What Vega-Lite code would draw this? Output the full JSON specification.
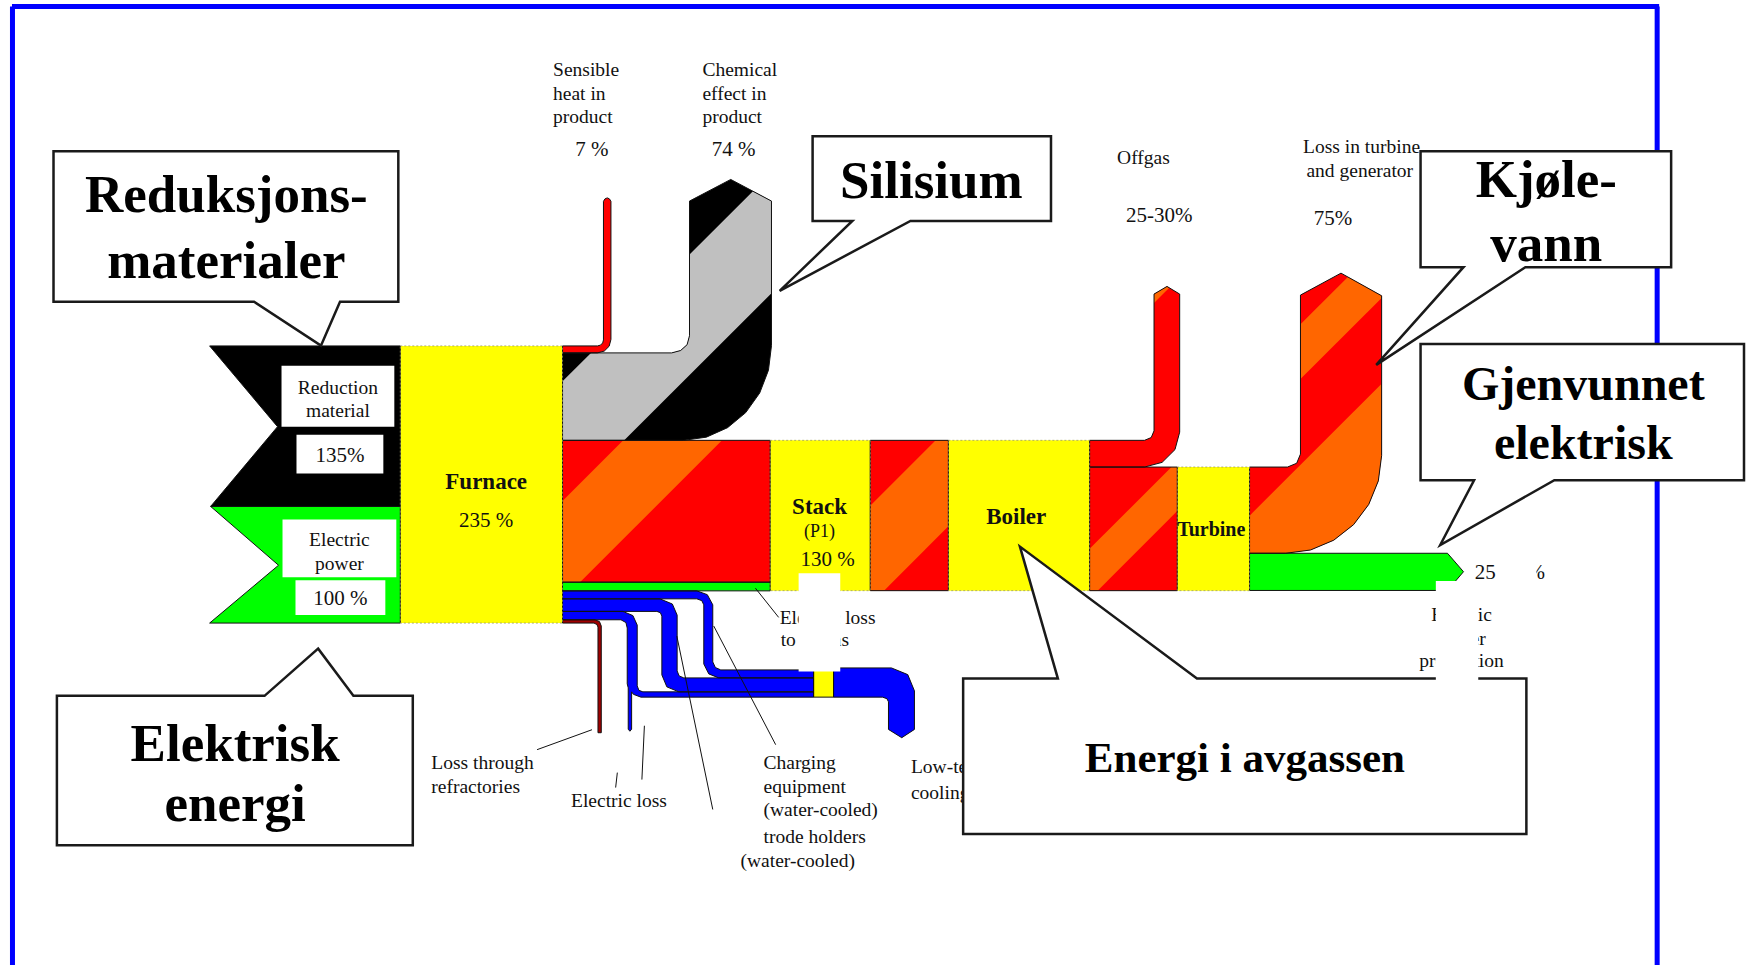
{
  "$schema": "https://vega.github.io/schema/vega-lite/v6.json",
  "width": 1749,
  "height": 968,
  "autosize": {"type": "fit", "contains": "padding"},
  "padding": 0,
  "background": "#ffffff",
  "config": {"view": {"stroke": null}},
  "datasets": {
    "shapes": [
      {"id": "A", "k": "reduction", "x": [210, 401, 401, 211, 278], "y": [347, 347, 508, 508, 428]},
      {"id": "B", "k": "electric", "x": [211, 401, 401, 210, 279], "y": [508, 508, 625, 625, 567]},
      {"id": "C", "k": "process", "x": [401, 563.5, 563.5, 401], "y": [347, 347, 625, 625]},
      {"id": "D", "k": "exhaust", "x": [563.5, 598.5, 601.5, 603.7, 604.5, 604.5, 606, 608.3, 610.5, 612, 612, 610.2, 605.3, 598.5, 563.5], "y": [347, 347, 346.2, 344, 341, 202, 199.5, 198.5, 199.5, 202, 340.5, 347.3, 352.2, 354, 354]},
      {"id": "E", "k": "product", "x": [563.5, 672.8, 681.8, 688.3, 690.7, 690.7, 732, 772.8, 772.8, 769.8, 761, 747, 728.8, 707.6, 684.8, 563.5], "y": [354, 354, 351.6, 345.7, 336.7, 201.7, 180, 201.7, 346.7, 371.3, 394.2, 413.9, 429, 438.5, 441.7, 441.7]},
      {"id": "F", "k": "exhaust", "x": [563.5, 771.5, 771.5, 563.5], "y": [441.7, 441.7, 584, 584]},
      {"id": "F2", "k": "electric", "x": [563.5, 771.5, 771.5, 563.5], "y": [584, 584, 592.7, 592.7]},
      {"id": "G", "k": "process", "x": [771.5, 871.7, 871.7, 771.5], "y": [441.7, 441.7, 592.5, 592.5]},
      {"id": "H", "k": "exhaust", "x": [871.7, 950, 950, 871.7], "y": [441.7, 441.7, 592.5, 592.5]},
      {"id": "I", "k": "process", "x": [950, 1091.5, 1091.5, 950], "y": [441.7, 441.7, 592.5, 592.5]},
      {"id": "J", "k": "exhaust", "x": [1091.5, 1146.5, 1153.2, 1156, 1156, 1169, 1181.7, 1181.7, 1177, 1164.1, 1146.5, 1091.5], "y": [441.7, 441.7, 438.9, 432.2, 295, 287.3, 295, 433.5, 451, 463.8, 468.5, 468.5]},
      {"id": "K", "k": "exhaust", "x": [1091.5, 1179.3, 1179.3, 1091.5], "y": [468.5, 468.5, 592.5, 592.5]},
      {"id": "L", "k": "process", "x": [1179.3, 1251.7, 1251.7, 1179.3], "y": [468.5, 468.5, 592.5, 592.5]},
      {"id": "M", "k": "exhaust", "x": [1251.7, 1289.7, 1298.9, 1302.7, 1302.7, 1343.3, 1384, 1384, 1380.7, 1371.1, 1355.9, 1336, 1312.8, 1288, 1251.7], "y": [468.5, 468.5, 464.7, 455.5, 296, 274, 296.7, 457, 482.4, 506, 526.3, 541.9, 551.7, 555, 555]},
      {"id": "N", "k": "electric", "x": [1251.7, 1450, 1466, 1450, 1251.7], "y": [555, 555, 573.5, 592.3, 592.3]},
      {"id": "P1", "k": "cooling", "x": [563.5, 698, 708.5, 714, 714, 716.6, 722, 815, 815, 720, 710, 705, 705, 703, 698, 563.5], "y": [592.7, 592.7, 596.5, 606.7, 664, 669.6, 672, 672, 680, 680, 676, 666, 606.7, 602.5, 600.7, 600.7]},
      {"id": "P2", "k": "cooling", "x": [563.5, 661, 673.5, 678.3, 678.3, 680.3, 685, 815, 815, 680, 668, 663, 663, 661.5, 658, 563.5], "y": [600.7, 600.7, 605.9, 617, 673, 678, 680, 680, 694, 694, 689, 677, 618, 614.6, 613.3, 613.3]},
      {"id": "P3", "k": "cooling", "x": [563.5, 624, 634, 638.3, 638.3, 640, 644, 815, 815, 642, 634.5, 632.7, 632.7, 631, 629.3, 629.3, 628.3, 628.3, 627, 622, 563.5], "y": [613.3, 613.3, 617.5, 627, 688, 692.5, 694, 694, 699.3, 699.3, 696.5, 694, 731.5, 733.5, 731.5, 690, 686, 630, 624.5, 621.7, 621.7]},
      {"id": "Q", "k": "cooling", "x": [835, 893, 909.3, 916, 916, 903.3, 890, 890, 888.5, 884, 835], "y": [670, 670, 676.7, 693, 731.7, 740, 731.7, 704, 700.9, 699.3, 699.3]},
      {"id": "R", "k": "process", "x": [815, 835, 835, 815], "y": [671, 671, 699.3, 699.3]},
      {"id": "T", "k": "refractory", "x": [563.5, 596, 600.5, 602.3, 602.3, 599, 599, 598, 595, 563.5], "y": [621.7, 621.7, 623.5, 628, 735, 735, 629, 626.5, 625, 625]}
    ],
    "stripes": [
      {"id": "S1", "k": "exhaust stripe", "x": [624.3, 723.3, 581, 563.5, 563.5], "y": [441.7, 441.7, 584, 584, 502.5]},
      {"id": "S2", "k": "exhaust stripe", "x": [937.3, 950, 950, 885.5, 871.7, 871.7], "y": [441.7, 441.7, 528, 592.5, 592.5, 507.3]},
      {"id": "S3", "k": "exhaust stripe", "x": [1156, 1156, 1169, 1171.3], "y": [304, 295, 287.3, 288.7]},
      {"id": "S4", "k": "exhaust stripe", "x": [1173.5, 1179.3, 1179.3, 1099.5, 1091.5, 1091.5], "y": [468.5, 468.5, 512.7, 592.5, 592.5, 550.5]},
      {"id": "S5", "k": "exhaust stripe", "x": [1302.7, 1302.7, 1350.2, 1384, 1384], "y": [380.3, 325.3, 277.8, 296.7, 299]},
      {"id": "S6", "k": "exhaust stripe", "x": [1384, 1384, 1380.7, 1371.1, 1355.9, 1336, 1312.8, 1288, 1251.7, 1251.7], "y": [385, 457, 482.4, 506, 526.3, 541.9, 551.7, 555, 555, 517.3]},
      {"id": "S7", "k": "product stripe", "x": [592, 672.8, 681.8, 688.3, 690.7, 690.7, 754.2, 772.8, 772.8, 625.3, 563.5, 563.5], "y": [354, 354, 351.6, 345.7, 336.7, 255.3, 191.8, 201.7, 294.2, 441.7, 441.7, 382.5]}
    ],
    "callouts": [
      {"id": "C1", "x": [53.6, 399, 399, 340.6, 321.5, 254.5, 53.6], "y": [151.7, 151.7, 302.7, 302.7, 346.7, 302.7, 302.7]},
      {"id": "C2", "x": [814, 1052.8, 1052.8, 912, 781, 853.8, 814], "y": [136.7, 136.7, 221.7, 221.7, 291.7, 221.7, 221.7]},
      {"id": "C3", "x": [1423, 1674, 1674, 1528, 1378.6, 1466, 1423], "y": [151.7, 151.7, 268, 268, 366, 268, 268]},
      {"id": "C4", "x": [1423, 1747, 1747, 1557, 1442.7, 1476.6, 1423], "y": [345, 345, 481.7, 481.7, 546.7, 481.7, 481.7]},
      {"id": "C5", "x": [57, 265, 318.7, 354, 413.5, 413.5, 57], "y": [698, 698, 650.7, 698, 698, 848, 848]},
      {"id": "C6", "x": [964.8, 1059.7, 1021.7, 1199, 1529, 1529, 964.8], "y": [680.7, 680.7, 548.3, 680.7, 680.7, 836.7, 836.7]}
    ],
    "border": [
      {"x": 12, "y": 6.5, "x2": 1662, "y2": 6.5},
      {"x": 12.5, "y": 6.5, "x2": 12.5, "y2": 968},
      {"x": 1660, "y": 6.5, "x2": 1660, "y2": 968}
    ],
    "leaders": [
      {"x": 538, "y": 752, "x2": 593, "y2": 732},
      {"x": 616.7, "y": 790, "x2": 618.4, "y2": 775},
      {"x": 643, "y": 782, "x2": 645.5, "y2": 728},
      {"x": 678, "y": 638, "x2": 714, "y2": 812},
      {"x": 715, "y": 628, "x2": 777, "y2": 747},
      {"x": 756.7, "y": 590, "x2": 780, "y2": 619.3}
    ],
    "labelboxes": [
      {"x": 282, "x2": 395, "y": 367, "y2": 428},
      {"x": 297, "x2": 384, "y": 436, "y2": 475},
      {"x": 283, "x2": 397, "y": 521, "y2": 579},
      {"x": 296, "x2": 386, "y": 582, "y2": 617}
    ],
    "masks": [
      {"x": 800, "x2": 841.7, "y": 575, "y2": 673.5},
      {"x": 1438.3, "x2": 1480.8, "y": 582.7, "y2": 683},
      {"x": 1526, "x2": 1539, "y": 558, "y2": 590}
    ],
    "texts": [
      {"t": "Sensible", "x": 554, "y": 70, "role": "label"},
      {"t": "heat in", "x": 554, "y": 94, "role": "label"},
      {"t": "product", "x": 554, "y": 117, "role": "label"},
      {"t": "Chemical", "x": 703.6, "y": 70, "role": "label"},
      {"t": "effect in", "x": 703.6, "y": 94, "role": "label"},
      {"t": "product", "x": 703.6, "y": 117, "role": "label"},
      {"t": "Offgas", "x": 1119, "y": 158, "role": "label"},
      {"t": "Loss in turbine", "x": 1305.3, "y": 147.3, "role": "label"},
      {"t": "and generator", "x": 1308.7, "y": 171.7, "role": "label"},
      {"t": "Electric loss", "x": 781, "y": 620, "role": "label"},
      {"t": "to offgas", "x": 782, "y": 641.7, "role": "label"},
      {"t": "Low-temperature", "x": 912.5, "y": 769, "role": "label"},
      {"t": "cooling", "x": 912.5, "y": 795, "role": "label"},
      {"t": "Loss through", "x": 432, "y": 765, "role": "label"},
      {"t": "refractories", "x": 432, "y": 789.3, "role": "label"},
      {"t": "Charging", "x": 764.8, "y": 765, "role": "label"},
      {"t": "equipment", "x": 764.8, "y": 789.3, "role": "label"},
      {"t": "(water-cooled)", "x": 764.8, "y": 812.7, "role": "label"},
      {"t": "trode holders", "x": 764.8, "y": 839.3, "role": "label"},
      {"t": "(water-cooled)", "x": 741.8, "y": 864, "role": "label"},
      {"t": "Reduction", "x": 338.5, "y": 389, "role": "labelc"},
      {"t": "material", "x": 338.5, "y": 412, "role": "labelc"},
      {"t": "Electric", "x": 340, "y": 542, "role": "labelc"},
      {"t": "power", "x": 340, "y": 566, "role": "labelc"},
      {"t": "Electric loss", "x": 620, "y": 803, "role": "labelc"},
      {"t": "Electric", "x": 1464, "y": 617, "role": "labelc"},
      {"t": "power", "x": 1464, "y": 641, "role": "labelc"},
      {"t": "production", "x": 1464, "y": 663.3, "role": "labelc"},
      {"t": "7 %", "x": 593, "y": 150, "role": "value"},
      {"t": "74 %", "x": 734.8, "y": 150, "role": "value"},
      {"t": "135%", "x": 340.5, "y": 457, "role": "value"},
      {"t": "100 %", "x": 341, "y": 601, "role": "value"},
      {"t": "235 %", "x": 487, "y": 523, "role": "value"},
      {"t": "130 %", "x": 829, "y": 561.7, "role": "value"},
      {"t": "25-30%", "x": 1128, "y": 216.7, "role": "valuel"},
      {"t": "75%", "x": 1316, "y": 219.3, "role": "valuel"},
      {"t": "25", "x": 1477.3, "y": 574.3, "role": "valuel"},
      {"t": "%", "x": 1530, "y": 574.3, "role": "valuel"},
      {"t": "Furnace", "x": 487, "y": 483, "role": "node"},
      {"t": "Stack", "x": 821, "y": 509, "role": "node"},
      {"t": "Boiler", "x": 1018, "y": 519, "role": "node"},
      {"t": "Turbine", "x": 1213.3, "y": 531.7, "role": "nodesmall"},
      {"t": "(P1)", "x": 821, "y": 534, "role": "sub"},
      {"t": "Reduksjons-", "x": 226.7, "y": 213, "role": "callout"},
      {"t": "materialer", "x": 226.7, "y": 279, "role": "callout"},
      {"t": "Silisium", "x": 933, "y": 198.3, "role": "callout"},
      {"t": "Kjøle-", "x": 1549, "y": 197.3, "role": "callout"},
      {"t": "vann", "x": 1549, "y": 261.7, "role": "callout"},
      {"t": "Elektrisk", "x": 235.5, "y": 763, "role": "callout"},
      {"t": "energi", "x": 235.5, "y": 824, "role": "callout"},
      {"t": "Gjenvunnet", "x": 1586, "y": 401, "role": "callout2"},
      {"t": "elektrisk", "x": 1586, "y": 460, "role": "callout2"},
      {"t": "Energi i avgassen", "x": 1247, "y": 774, "role": "callout3"}
    ]
  },
  "encoding": {
    "x": {"field": "x", "type": "quantitative", "scale": {"domain": [0, 1749], "nice": false, "zero": false}, "axis": null},
    "y": {"field": "y", "type": "quantitative", "scale": {"domain": [0, 968], "nice": false, "zero": false, "reverse": true}, "axis": null}
  },
  "layer": [
    {
      "data": {"name": "border"},
      "mark": {"type": "rule", "color": "#0000ff", "strokeWidth": 5},
      "encoding": {"x2": {"field": "x2"}, "y2": {"field": "y2"}}
    },
    {
      "data": {"name": "shapes"},
      "transform": [{"flatten": ["x", "y"]}, {"window": [{"op": "row_number", "as": "i"}], "groupby": ["id"]}],
      "mark": {"type": "line", "interpolate": "linear-closed", "strokeWidth": 0},
      "encoding": {
        "detail": {"field": "id"},
        "order": {"field": "i", "type": "quantitative"},
        "fill": {"field": "k", "type": "nominal", "legend": null,
          "scale": {"domain": ["reduction", "electric", "process", "exhaust", "product", "cooling", "refractory", "exhaust stripe", "product stripe"],
                    "range": ["#000000", "#00ff00", "#ffff00", "#ff0000", "#000000", "#0000ff", "#a00000", "#ff6600", "#c0c0c0"]}}
      }
    },
    {
      "data": {"name": "stripes"},
      "transform": [{"flatten": ["x", "y"]}, {"window": [{"op": "row_number", "as": "i"}], "groupby": ["id"]}],
      "mark": {"type": "line", "interpolate": "linear-closed", "strokeWidth": 0},
      "encoding": {
        "detail": {"field": "id"},
        "order": {"field": "i", "type": "quantitative"},
        "fill": {"field": "k", "type": "nominal", "legend": null,
          "scale": {"domain": ["reduction", "electric", "process", "exhaust", "product", "cooling", "refractory", "exhaust stripe", "product stripe"],
                    "range": ["#000000", "#00ff00", "#ffff00", "#ff0000", "#000000", "#0000ff", "#a00000", "#ff6600", "#c0c0c0"]}}
      }
    },
    {
      "data": {"name": "shapes"},
      "transform": [{"filter": "datum.k !== 'process' || datum.id === 'R'"}, {"flatten": ["x", "y"]}, {"window": [{"op": "row_number", "as": "i"}], "groupby": ["id"]}],
      "mark": {"type": "line", "interpolate": "linear-closed", "stroke": "#111111", "strokeWidth": 1},
      "encoding": {"detail": {"field": "id"}, "order": {"field": "i", "type": "quantitative"}}
    },
    {
      "data": {"name": "shapes"},
      "transform": [{"filter": "datum.k === 'process' && datum.id !== 'R'"}, {"flatten": ["x", "y"]}, {"window": [{"op": "row_number", "as": "i"}], "groupby": ["id"]}],
      "mark": {"type": "line", "interpolate": "linear-closed", "stroke": "#9a9a60", "strokeWidth": 0.8, "strokeDash": [2, 2]},
      "encoding": {"detail": {"field": "id"}, "order": {"field": "i", "type": "quantitative"}}
    },
    {
      "data": {"name": "leaders"},
      "mark": {"type": "rule", "color": "#111111", "strokeWidth": 1},
      "encoding": {"x2": {"field": "x2"}, "y2": {"field": "y2"}}
    },
    {
      "data": {"name": "labelboxes"},
      "mark": {"type": "rect", "fill": "#ffffff"},
      "encoding": {"x2": {"field": "x2"}, "y2": {"field": "y2"}}
    },
    {
      "data": {"name": "texts"},
      "transform": [{"filter": "datum.role === 'label'"}],
      "mark": {"type": "text", "font": "Liberation Serif", "fontSize": 19.5, "align": "left", "baseline": "middle", "color": "#111111"},
      "encoding": {"text": {"field": "t"}}
    },
    {
      "data": {"name": "texts"},
      "transform": [{"filter": "datum.role === 'labelc'"}],
      "mark": {"type": "text", "font": "Liberation Serif", "fontSize": 19.5, "align": "center", "baseline": "middle", "color": "#111111"},
      "encoding": {"text": {"field": "t"}}
    },
    {
      "data": {"name": "texts"},
      "transform": [{"filter": "datum.role === 'value'"}],
      "mark": {"type": "text", "font": "Liberation Serif", "fontSize": 21, "align": "center", "baseline": "middle", "color": "#111111"},
      "encoding": {"text": {"field": "t"}}
    },
    {
      "data": {"name": "texts"},
      "transform": [{"filter": "datum.role === 'valuel'"}],
      "mark": {"type": "text", "font": "Liberation Serif", "fontSize": 21, "align": "left", "baseline": "middle", "color": "#111111"},
      "encoding": {"text": {"field": "t"}}
    },
    {
      "data": {"name": "texts"},
      "transform": [{"filter": "datum.role === 'node'"}],
      "mark": {"type": "text", "font": "Liberation Serif", "fontSize": 23, "fontWeight": "bold", "letterSpacing": 1, "align": "center", "baseline": "middle", "color": "#111111"},
      "encoding": {"text": {"field": "t"}}
    },
    {
      "data": {"name": "texts"},
      "transform": [{"filter": "datum.role === 'nodesmall'"}],
      "mark": {"type": "text", "font": "Liberation Serif", "fontSize": 20, "fontWeight": "bold", "align": "center", "baseline": "middle", "color": "#111111"},
      "encoding": {"text": {"field": "t"}}
    },
    {
      "data": {"name": "texts"},
      "transform": [{"filter": "datum.role === 'sub'"}],
      "mark": {"type": "text", "font": "Liberation Serif", "fontSize": 18, "align": "center", "baseline": "middle", "color": "#111111"},
      "encoding": {"text": {"field": "t"}}
    },
    {
      "data": {"name": "callouts"},
      "transform": [{"flatten": ["x", "y"]}, {"window": [{"op": "row_number", "as": "i"}], "groupby": ["id"]}],
      "mark": {"type": "line", "interpolate": "linear-closed", "fill": "#ffffff", "stroke": "#1a1a1a", "strokeWidth": 2.5, "strokeJoin": "miter"},
      "encoding": {"detail": {"field": "id"}, "order": {"field": "i", "type": "quantitative"}}
    },
    {
      "data": {"name": "texts"},
      "transform": [{"filter": "datum.role === 'callout'"}],
      "mark": {"type": "text", "font": "Liberation Serif", "fontSize": 53, "fontWeight": "bold", "align": "center", "baseline": "alphabetic", "color": "#000000"},
      "encoding": {"text": {"field": "t"}}
    },
    {
      "data": {"name": "texts"},
      "transform": [{"filter": "datum.role === 'callout2'"}],
      "mark": {"type": "text", "font": "Liberation Serif", "fontSize": 48, "fontWeight": "bold", "align": "center", "baseline": "alphabetic", "color": "#000000"},
      "encoding": {"text": {"field": "t"}}
    },
    {
      "data": {"name": "texts"},
      "transform": [{"filter": "datum.role === 'callout3'"}],
      "mark": {"type": "text", "font": "Liberation Serif", "fontSize": 43, "fontWeight": "bold", "align": "center", "baseline": "alphabetic", "color": "#000000"},
      "encoding": {"text": {"field": "t"}}
    },
    {
      "data": {"name": "masks"},
      "mark": {"type": "rect", "fill": "#ffffff"},
      "encoding": {"x2": {"field": "x2"}, "y2": {"field": "y2"}}
    }
  ]
}
